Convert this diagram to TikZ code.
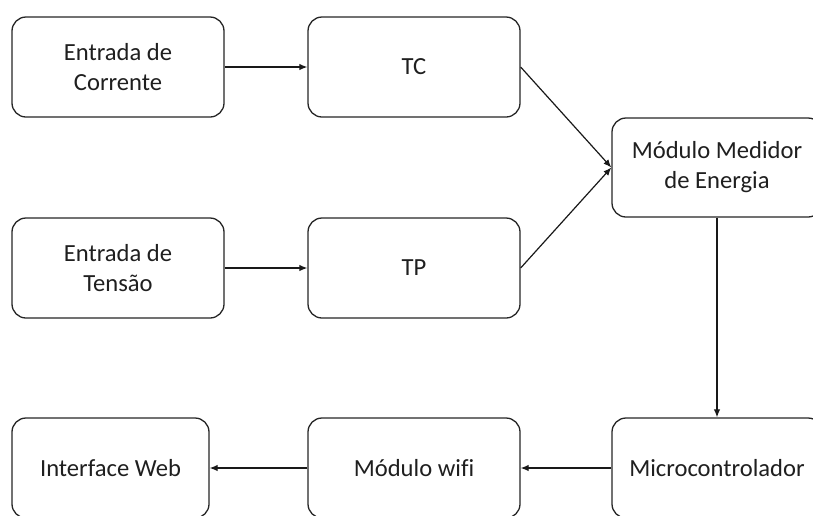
\documentclass[tikz,border=0pt]{standalone}
\usepackage{fontspec}
\setmainfont[Ligatures=NoCommon]{Carlito}
\usetikzlibrary{arrows.meta}
\begin{document}
\begin{tikzpicture}[x=1pt,y=-1pt,
  blk/.style={draw=black!85, line width=1.3pt, rounded corners=14pt, fill=white,
    minimum width=212pt, minimum height=100pt, align=center,
    font=\fontsize{24.6}{30}\selectfont, text=black!88, inner sep=0pt},
  conn/.style={draw=black!90, line width=1.2pt, -{Latex[length=8pt,width=6.5pt]}}]
\useasboundingbox (0,0) rectangle (813,515);
\clip (0,0) rectangle (813,515);
\node[blk] (ec) at (118,67) {Entrada de\\Corrente};
\node[blk] (tc) at (414,67) {TC};
\node[blk, minimum width=210pt, minimum height=99pt] (mm) at (717,167.5) {Módulo Medidor\\de Energia};
\node[blk] (et) at (118,268) {Entrada de\\Tensão};
\node[blk] (tp) at (414,268) {TP};
\node[blk, minimum width=197pt] (iw) at (110.5,468) {Interface Web};
\node[blk] (mw) at (414,468) {Módulo wifi};
\node[blk, minimum width=210pt] (mc) at (717,468) {Microcontrolador};
\draw[conn] (ec) -- (tc);
\draw[conn] (et) -- (tp);
\draw[conn] (tc.east) -- (mm.west);
\draw[conn] (tp.east) -- (mm.west);
\draw[conn] (mm) -- (mc);
\draw[conn] (mc) -- (mw);
\draw[conn] (mw) -- (iw);
\end{tikzpicture}
\end{document}
